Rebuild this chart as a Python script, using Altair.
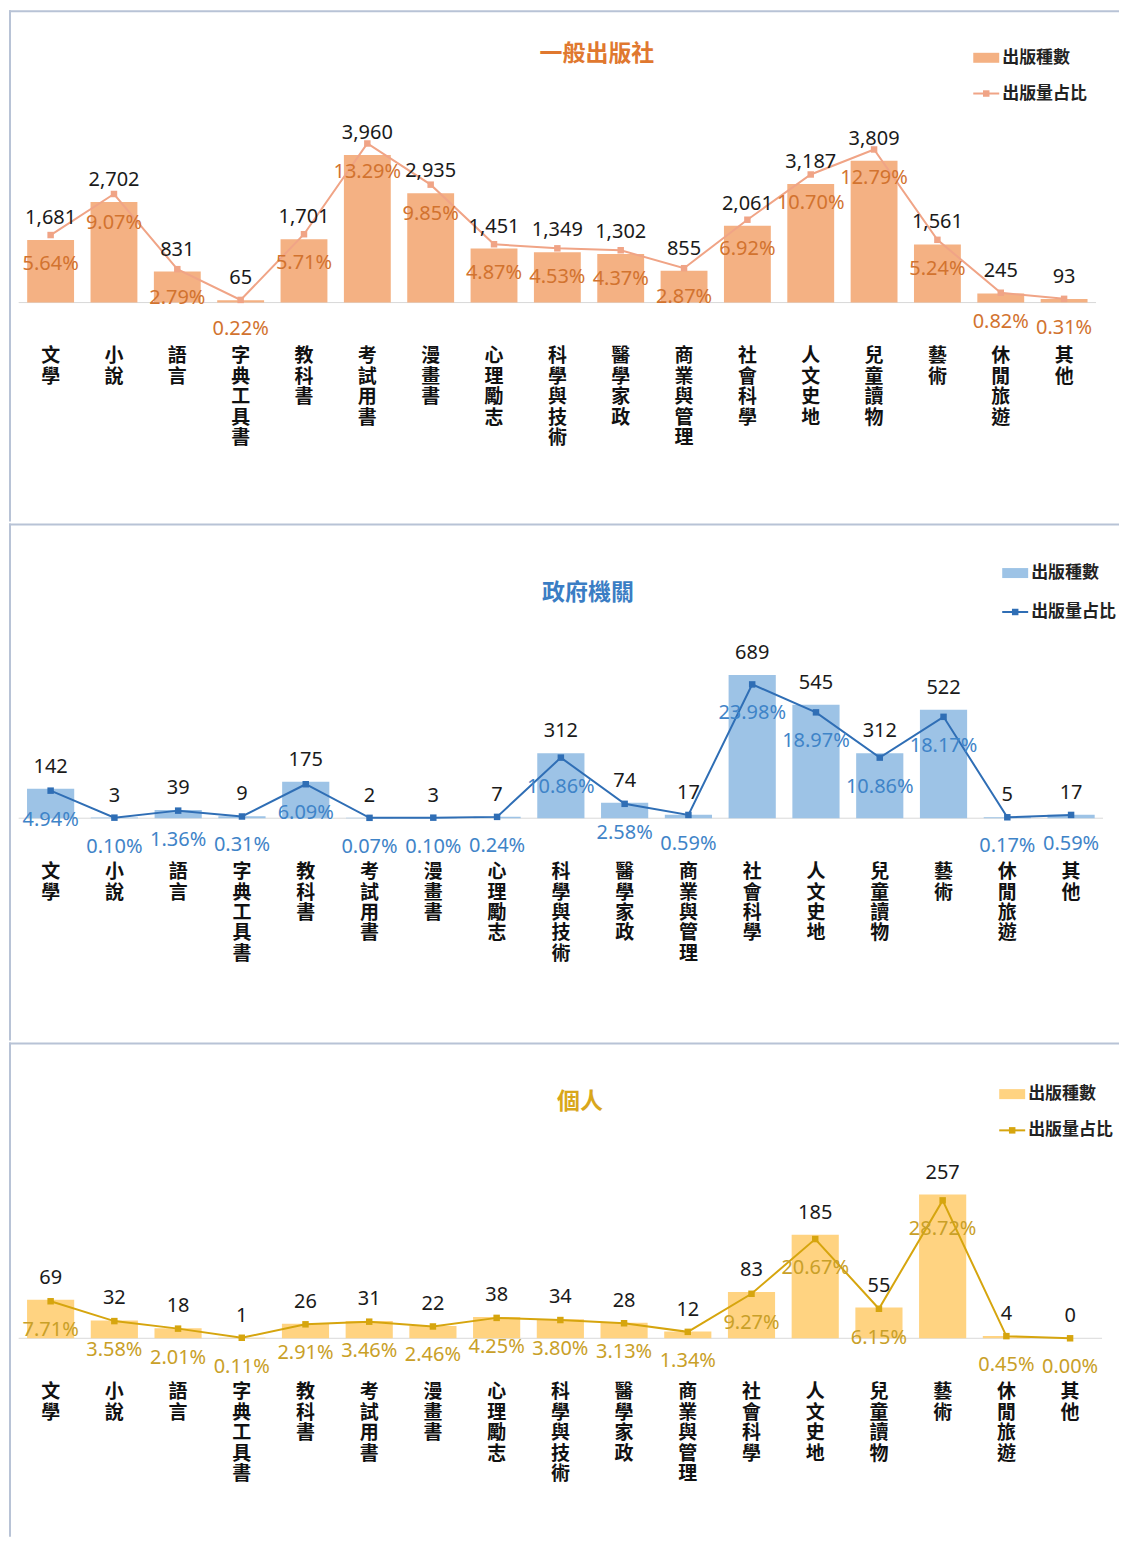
import altair as alt
import pandas as pd

categories = ["文學", "小說", "語言", "字典工具書", "教科書", "考試用書", "漫畫書", "心理勵志",
              "科學與技術", "醫學家政", "商業與管理", "社會科學", "人文史地", "兒童讀物", "藝術",
              "休閒旅遊", "其他"]

pub_counts = [1681, 2702, 831, 65, 1701, 3960, 2935, 1451, 1349, 1302, 855, 2061, 3187, 3809, 1561, 245, 93]
pub_pcts = [5.64, 9.07, 2.79, 0.22, 5.71, 13.29, 9.85, 4.87, 4.53, 4.37, 2.87, 6.92, 10.70, 12.79, 5.24, 0.82, 0.31]

gov_counts = [142, 3, 39, 9, 175, 2, 3, 7, 312, 74, 17, 689, 545, 312, 522, 5, 17]
gov_pcts = [4.94, 0.10, 1.36, 0.31, 6.09, 0.07, 0.10, 0.24, 10.86, 2.58, 0.59, 23.98, 18.97, 10.86, 18.17, 0.17, 0.59]

ind_counts = [69, 32, 18, 1, 26, 31, 22, 38, 34, 28, 12, 83, 185, 55, 257, 4, 0]
ind_pcts = [7.71, 3.58, 2.01, 0.11, 2.91, 3.46, 2.46, 4.25, 3.80, 3.13, 1.34, 9.27, 20.67, 6.15, 28.72, 0.45, 0.00]

legend_bar = "出版種數"
legend_line = "出版量占比"

W = 1112
BORDER = "#B8C3D6"
NUM_FONT = "Noto Sans"
CJK_FONT = "Noto Sans CJK TC"
P_IN = 0.26


def panel(title, counts, pcts, H, base, cnt_px, pct_px, first_c, last_c,
          bar_color, line_color, pct_color, title_color, title_xy, leg_x, leg_y1, leg_y2):
    step = (last_c - first_c) / 16.0
    p_out = (first_c - (1 - P_IN) / 2 * step) / step
    span = step * (17 - P_IN + 2 * p_out)

    df = pd.DataFrame({
        "cat": categories,
        "count": counts,
        "pct": pcts,
        "vlabel": ["\n".join(list(c)) for c in categories],
    })
    one = alt.Data(values=[{"k": 1}])
    src = alt.Chart(df)

    xenc = alt.X("cat:N", sort=categories, axis=None,
                 scale=alt.Scale(range=[0, span], paddingInner=P_IN, paddingOuter=p_out))
    cscale = alt.Scale(domain=[0, base / cnt_px], range=[base, 0], nice=False, zero=True)
    pscale = alt.Scale(domain=[0, base / pct_px], range=[base, 0], nice=False, zero=True)
    yc = alt.Y("count:Q", scale=cscale, axis=None)
    yp = alt.Y("pct:Q", scale=pscale, axis=None)

    frame_top = alt.Chart(one).mark_rule(color=BORDER, strokeWidth=2).encode(
        x=alt.value(0), x2=alt.value(W), y=alt.value(1))
    frame_left = alt.Chart(one).mark_rule(color=BORDER, strokeWidth=2).encode(
        x=alt.value(1), y=alt.value(0), y2=alt.value(H))
    baseline = alt.Chart(one).mark_rule(color="#D9D9D9", strokeWidth=1).encode(
        x=alt.value(first_c - 32), x2=alt.value(last_c + 32), y=alt.value(base))

    bars = src.mark_bar(color=bar_color).encode(x=xenc, y=yc)
    cnt_text = src.mark_text(dy=-22, fontSize=20, font=NUM_FONT, color="#1A1A1A",
                             baseline="middle").encode(
        x=xenc, y=yc, text=alt.Text("count:Q", format=","))
    line = src.mark_line(color=line_color, strokeWidth=2,
                         point=alt.OverlayMarkDef(shape="square", size=42, filled=True,
                                                  color=line_color, opacity=1)).encode(x=xenc, y=yp)
    pct_text = src.transform_calculate(
        plabel="format(datum.pct, '.2f') + '%'"
    ).mark_text(dy=29, fontSize=20, font=NUM_FONT, color=pct_color, baseline="middle").encode(
        x=xenc, y=yp, text="plabel:N")
    cat_text = src.mark_text(baseline="top", lineBreak="\n", lineHeight=20.5, fontSize=19,
                             font=CJK_FONT, fontWeight="bold", color="#111111").encode(
        x=xenc, y=alt.value(base + 45), text="vlabel:N")

    ttl = alt.Chart(one).mark_text(fontSize=23, font=CJK_FONT, fontWeight="bold",
                                   color=title_color, baseline="middle", align="center").encode(
        x=alt.value(title_xy[0]), y=alt.value(title_xy[1]), text=alt.value(title))

    sw = alt.Chart(one).mark_rect(color=bar_color).encode(
        x=alt.value(leg_x), x2=alt.value(leg_x + 26),
        y=alt.value(leg_y1 - 5), y2=alt.value(leg_y1 + 5))
    lg_line = alt.Chart(one).mark_rule(color=line_color, strokeWidth=2).encode(
        x=alt.value(leg_x), x2=alt.value(leg_x + 26), y=alt.value(leg_y2))
    lg_pt = alt.Chart(one).mark_square(size=42, filled=True, color=line_color, opacity=1).encode(
        x=alt.value(leg_x + 13), y=alt.value(leg_y2))
    lg_t1 = alt.Chart(one).mark_text(fontSize=17, font=CJK_FONT, fontWeight="bold", color="#222222",
                                     align="left", baseline="middle").encode(
        x=alt.value(leg_x + 29), y=alt.value(leg_y1), text=alt.value(legend_bar))
    lg_t2 = alt.Chart(one).mark_text(fontSize=17, font=CJK_FONT, fontWeight="bold", color="#222222",
                                     align="left", baseline="middle").encode(
        x=alt.value(leg_x + 29), y=alt.value(leg_y2), text=alt.value(legend_line))

    return alt.layer(
        frame_top, frame_left, baseline, bars, line, cnt_text, pct_text, cat_text,
        ttl, sw, lg_line, lg_pt, lg_t1, lg_t2
    ).resolve_scale(y="independent").properties(width=W, height=H)


p1 = panel("一般出版社", pub_counts, pub_pcts, H=512, base=292.7, cnt_px=0.0373, pct_px=11.99,
           first_c=41.7, last_c=1057.0,
           bar_color="#F4B183", line_color="#F0A486", pct_color="#D2732F", title_color="#E0782F",
           title_xy=(589, 44), leg_x=966, leg_y1=47.5, leg_y2=83.3)

p2 = panel("政府機關", gov_counts, gov_pcts, H=518, base=295.3, cnt_px=0.2084, pct_px=5.59,
           first_c=41.7, last_c=1064.0,
           bar_color="#9DC3E6", line_color="#2F6EB5", pct_color="#3F84C8", title_color="#3A7DC4",
           title_xy=(580, 70), leg_x=995, leg_y1=49.7, leg_y2=88.7)

p3 = panel("個人", ind_counts, ind_pcts, H=495, base=296.3, cnt_px=0.56, pct_px=4.81,
           first_c=41.7, last_c=1063.0,
           bar_color="#FFD381", line_color="#D6A50E", pct_color="#C9A028", title_color="#D9A71B",
           title_xy=(572, 60), leg_x=992, leg_y1=51.7, leg_y2=88.0)

chart = alt.vconcat(p1, p2, p3, spacing=0).properties(
    padding={"left": 0, "top": 0, "right": 0, "bottom": 0},
    background="white",
).configure_view(stroke=None, strokeWidth=0)

chart.save("out.html", embed_options={"renderer": "svg", "actions": False})
